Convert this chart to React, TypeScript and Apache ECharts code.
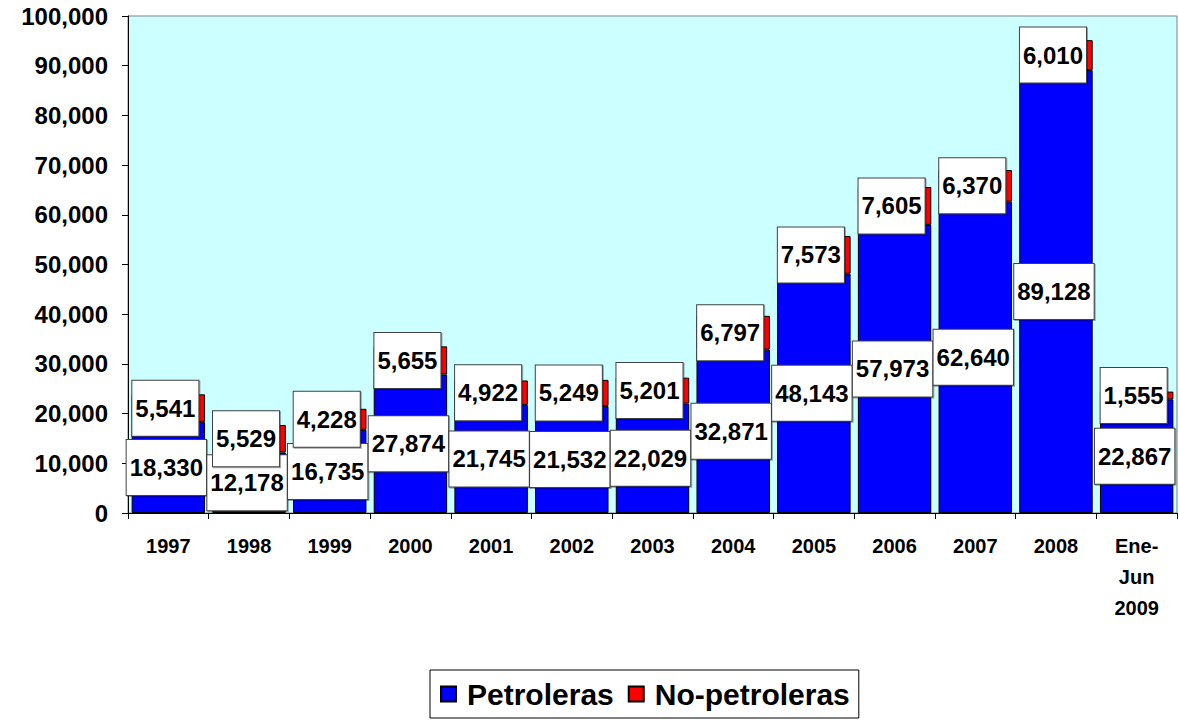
import React, { useEffect, useRef } from "react";
import * as echarts from "echarts";

const categories = ["1997", "1998", "1999", "2000", "2001", "2002", "2003", "2004", "2005", "2006", "2007", "2008", "Ene-\nJun\n2009"];
const petroleras = [18330, 12178, 16735, 27874, 21745, 21532, 22029, 32871, 48143, 57973, 62640, 89128, 22867];
const noPetroleras = [5541, 5529, 4228, 5655, 4922, 5249, 5201, 6797, 7573, 7605, 6370, 6010, 1555];
const yTicks = { min: 0, max: 100000, interval: 10000 };

const fmt = (v: number) => v.toLocaleString("en-US");

const makeLabel = (offsetX: number) => ({
  show: true,
  position: "inside" as const,
  offset: [offsetX, 0],
  formatter: (p: any) => fmt(p.value as number),
  color: "#000",
  fontWeight: "bold" as const,
  fontSize: 24,
  fontFamily: "'Liberation Sans', Arial, sans-serif",
  lineHeight: 25,
  backgroundColor: "#fff",
  borderColor: "#404040",
  borderWidth: 1,
  padding: [15, 3, 15, 3],
  shadowColor: "rgba(0,0,0,0.35)",
  shadowOffsetX: 1,
  shadowOffsetY: 1,
  shadowBlur: 0,
});

export default function App() {
  const ref = useRef<HTMLDivElement>(null);
  useEffect(() => {
    document.body.style.margin = "0";
    if (!ref.current) return;
    const chart = echarts.init(ref.current, undefined, { renderer: "svg" });
    chart.setOption({
      animation: false,
      backgroundColor: "#fff",
      grid: {
        left: 128,
        right: 2,
        top: 16,
        bottom: 208,
        show: true,
        backgroundColor: "#CCFFFF",
        borderColor: "#808080",
        borderWidth: 1,
      },
      legend: {
        bottom: 3,
        left: 430,
        data: ["Petroleras", "No-petroleras"],
        itemWidth: 15,
        itemHeight: 15,
        itemGap: 14,
        padding: [9, 9, 9, 10],
        borderColor: "#000",
        borderWidth: 1,
        icon: "rect",
        textStyle: {
          fontSize: 30,
          fontWeight: "bold",
          fontFamily: "'Liberation Sans', Arial, sans-serif",
          color: "#000",
          padding: [0, 0, 0, 6],
        },
      },
      xAxis: {
        type: "category",
        data: categories,
        axisLine: { lineStyle: { color: "#000", width: 1 } },
        axisTick: { show: true, length: 6, lineStyle: { color: "#000" } },
        axisLabel: {
          margin: 17,
          fontSize: 20,
          fontWeight: "bold",
          lineHeight: 31,
          fontFamily: "'Liberation Sans', Arial, sans-serif",
          color: "#000",
          interval: 0,
        },
      },
      yAxis: {
        type: "value",
        min: yTicks.min,
        max: yTicks.max,
        interval: yTicks.interval,
        splitLine: { show: false },
        axisLine: { show: true, lineStyle: { color: "#000", width: 1 } },
        axisTick: { show: true, length: 6, lineStyle: { color: "#000" } },
        axisLabel: {
          margin: 20,
          fontSize: 24,
          fontWeight: "bold",
          fontFamily: "'Liberation Sans', Arial, sans-serif",
          color: "#000",
          formatter: (v: number) => fmt(v),
        },
      },
      series: [
        {
          name: "Petroleras",
          type: "bar",
          stack: "total",
          data: petroleras,
          barCategoryGap: "9%",
          itemStyle: { color: "#0000FF", borderColor: "#000", borderWidth: 1 },
          label: makeLabel(-2),
          z: 2,
        },
        {
          name: "No-petroleras",
          type: "bar",
          stack: "total",
          data: noPetroleras,
          itemStyle: { color: "#FF0000", borderColor: "#000", borderWidth: 1 },
          label: makeLabel(-3),
          z: 3,
        },
      ],
    });
    return () => chart.dispose();
  }, []);
  return <div ref={ref} style={{ width: 1179, height: 721 }} />;
}
